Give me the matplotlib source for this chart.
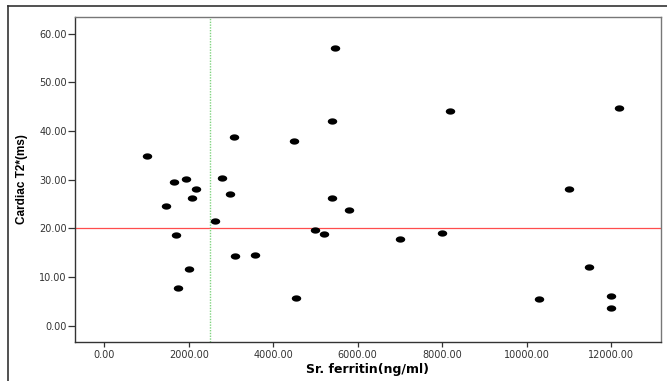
import numpy as np
import matplotlib
matplotlib.use("Agg")
import matplotlib.pyplot as plt
from matplotlib.path import Path
from matplotlib.lines import Line2D

ferritin = [1000, 1660, 1930, 2165, 2080, 1455, 1705, 2000, 1755, 2620,
            2795, 2970, 3070, 3095, 3560, 4500, 4530, 4990, 5195, 5400,
            5465, 5400, 5800, 7000, 8000, 8195, 12200, 11000, 11490, 10290,
            12000, 12000]
t2star = [34.8, 29.5, 30.2, 28.1, 26.2, 24.5, 18.6, 11.6, 7.8, 21.4,
          30.3, 27.1, 38.7, 14.3, 14.5, 37.9, 5.6, 19.6, 18.8, 42.0,
          57.0, 26.3, 23.8, 17.8, 19.0, 44.0, 44.8, 28.0, 12.1, 5.5,
          6.0, 3.6]
x_ticks = [0, 2000, 4000, 6000, 8000, 10000, 12000]
y_ticks = [0, 10, 20, 30, 40, 50, 60]
t2_cutoff = 20
ferritin_cutoff = 2500

fig = plt.figure(figsize=(6.67, 3.81), dpi=100)
ax = fig.add_axes([75/667, 1-342/381, (661-75)/667, (342-17)/381])

theta = np.linspace(0, 2*np.pi, 60)
ell = Path(np.column_stack([1.5*np.cos(theta), np.sin(theta)]), closed=True)

ax.axhline(t2_cutoff, color="#ff4d4d", lw=0.9, zorder=1)
ax.axvline(ferritin_cutoff, color="#7fd47f", lw=1.0, ls=(0, (1, 1)), zorder=1)
ax.plot(ferritin, t2star, ls="none", marker=ell, markersize=6.8,
        color="black", markeredgewidth=0, zorder=3)

ax.set_xlim(-694, 13185)
ax.set_ylim(-3.35, 63.4)
ax.set_xticks(x_ticks)
ax.set_xticklabels([f"{v:.2f}" for v in x_ticks])
ax.set_yticks(y_ticks)
ax.set_yticklabels([f"{v:.2f}" for v in y_ticks])

ax.tick_params(axis="y", length=5, width=0.9, color="#333333", pad=1,
               labelsize=7, labelcolor="#333333")
ax.tick_params(axis="x", length=3.5, width=0.9, color="#333333", pad=2.5,
               labelsize=7, labelcolor="#333333")
for s in ["left", "bottom"]:
    ax.spines[s].set_color("#333333")
    ax.spines[s].set_linewidth(1.0)
for s in ["top", "right"]:
    ax.spines[s].set_color("#777777")
    ax.spines[s].set_linewidth(1.0)

ax.set_xlabel("Sr. ferritin(ng/ml)", fontsize=9, fontweight="bold",
              family=["DejaVu Sans"], labelpad=2)
ax.set_ylabel("Cardiac T2*(ms)", fontsize=8.5, fontweight="bold",
              family=["Liberation Sans Narrow", "Liberation Sans", "DejaVu Sans"],
              labelpad=8)

# outer frame
fig.add_artist(Line2D([8/667, 8/667], [0, 1-6/381], transform=fig.transFigure,
                      color="#333333", lw=1.2))
fig.add_artist(Line2D([8/667, 1], [1-6/381, 1-6/381], transform=fig.transFigure,
                      color="#333333", lw=1.2))

fig.savefig("out.png", dpi=100)
